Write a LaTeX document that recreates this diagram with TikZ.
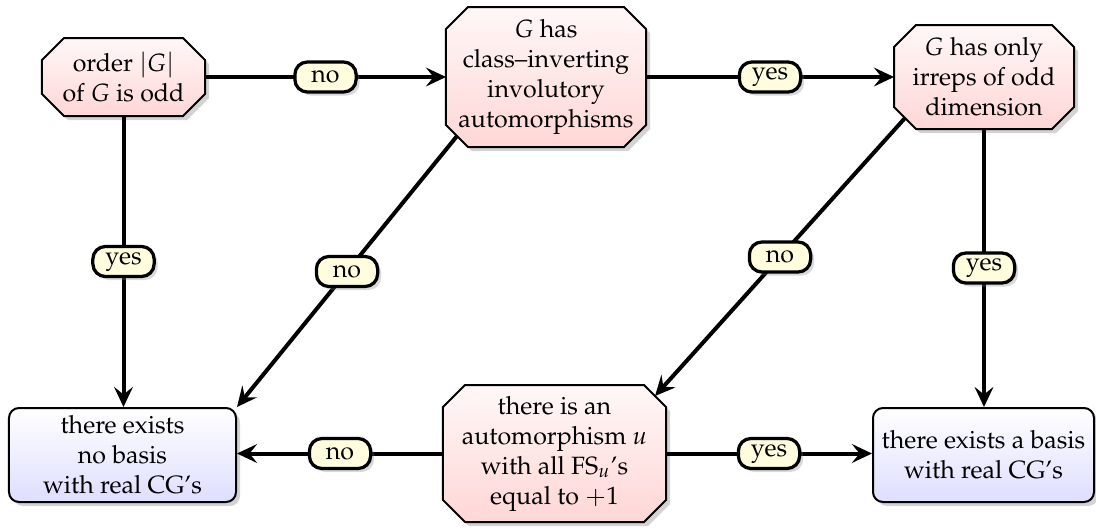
\documentclass[tikz,border=0pt]{standalone}
\usepackage[T1]{fontenc}
\usepackage{mathpazo}
\usetikzlibrary{shadows,arrows.meta,calc,backgrounds}
\tikzset{
  octtext/.style={rectangle, align=center, inner xsep=2pt, inner ysep=2pt, outer sep=0pt},
  octshape/.style={draw, thick, top color=red!3, bottom color=red!16,
    drop shadow={shadow xshift=1.6pt, shadow yshift=-1.6pt, opacity=0.35}},
  rbox/.style={rectangle, rounded corners=4pt, draw, thick, top color=white, bottom color=blue!13,
    align=center, inner xsep=3pt, inner ysep=2.5pt, minimum height=37.6pt,
    drop shadow={shadow xshift=1.6pt, shadow yshift=-1.6pt, opacity=0.35}},
  lbl/.style={draw, line width=1.3pt, rounded corners=5pt, fill=yellow!13, inner sep=1.5pt,
    minimum width=24.5pt, minimum height=12pt,
    drop shadow={shadow xshift=1.4pt, shadow yshift=-1.4pt, opacity=0.3}},
  conn/.style={ultra thick, -{Stealth[length=8pt,width=7.5pt,inset=3pt]}},
}
\newcommand\octpath[1]{%
  \path[octshape] ($(#1.north west)+(22,0)$) -- ($(#1.north east)+(-22,0)$)
    -- ($(#1.north east)+(0,22)$) -- ($(#1.south east)+(0,-22)$)
    -- ($(#1.south east)+(-22,0)$) -- ($(#1.south west)+(22,0)$)
    -- ($(#1.south west)+(0,-22)$) -- ($(#1.north west)+(0,22)$) -- cycle;}
\begin{document}
\begin{tikzpicture}[x=0.4pt,y=-0.4pt]
\useasboundingbox (0,0) rectangle (1096,529);
\node[octtext, minimum width=65.2pt, minimum height=31.2pt] (A) at (123.5,77) {order $|G|$\\of $G$ is odd};
\node[octtext, minimum width=80pt, minimum height=56pt] (B) at (546,77) {$G$ has\\class--inverting\\involutory\\automorphisms};
\node[octtext, minimum width=72pt, minimum height=41.6pt] (C) at (984,77) {$G$ has only\\irreps of odd\\dimension};
\node[rbox, minimum width=90.8pt] (D) at (122.5,455) {there exists\\no basis\\with real CG's};
\node[octtext, minimum width=89.2pt, minimum height=54.8pt] (E) at (554.5,453.5) {there is an\\automorphism $u$\\with all FS$_u$'s\\equal to $+1$};
\node[rbox, minimum width=88.4pt] (F) at (983.5,455) {there exists a basis\\with real CG's};
\begin{scope}[on background layer]
\octpath{A}\octpath{B}\octpath{C}\octpath{E}
\end{scope}
\draw[conn] (A) -- node[lbl]{no} (B);
\draw[conn] (B) -- node[lbl]{yes} (C);
\draw[conn] (A.south) -- node[lbl]{yes} (A.south |- D.north);
\draw[conn] ($(B.south west)+(11,-11)$) -- node[lbl]{no} (D.north east);
\draw[conn] ($(C.south west)+(11,-11)$) -- node[lbl]{no} ($(E.north east)+(-11,11)$);
\draw[conn] (C.south) -- node[lbl]{yes} (C.south |- F.north);
\draw[conn] (E.west) -- node[lbl]{no} (E.west -| D.east);
\draw[conn] (E.east) -- node[lbl]{yes} (E.east -| F.west);
\end{tikzpicture}
\end{document}
